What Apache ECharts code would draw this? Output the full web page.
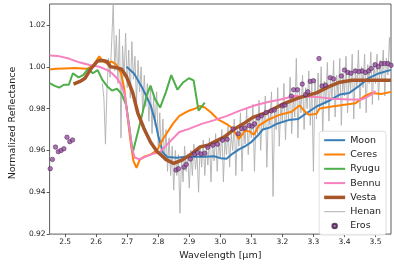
<!DOCTYPE html>
<html><head><meta charset="utf-8">
<script src="https://cdn.jsdelivr.net/npm/echarts@6/dist/echarts.min.js"></script>
<style>html,body{margin:0;padding:0;background:#fff}#c{width:394px;height:266px}</style>
</head><body><div id="c"></div>
<script>
const xTicks = [2.5,2.6,2.7,2.8,2.9,3.0,3.1,3.2,3.3,3.4,3.5];
const yTicks = [0.92,0.94,0.96,0.98,1.00,1.02];

const moon = [[2.698,1.000],[2.722,0.9968],[2.749,0.9898],[2.775,0.9818],[2.79,0.974],[2.80,0.967],[2.815,0.959],[2.83,0.9568],[2.86,0.9565],[2.89,0.957],[2.92,0.957],[2.95,0.957],[2.98,0.9572],[3.00,0.9563],[3.02,0.956],[3.04,0.9585],[3.06,0.9605],[3.08,0.962],[3.10,0.964],[3.12,0.967],[3.137,0.970],[3.16,0.971],[3.18,0.9726],[3.22,0.9745],[3.25,0.975],[3.28,0.978],[3.31,0.981],[3.354,0.984],[3.385,0.9867],[3.416,0.9875],[3.447,0.9908],[3.478,0.9946],[3.51,0.9968],[3.55,0.9985]];

const ceres = [[2.45,0.9987],[2.47,0.999],[2.50,0.9992],[2.53,0.9994],[2.57,0.999],[2.59,1.0005],[2.61,1.005],[2.62,1.003],[2.635,1.0015],[2.65,1.0025],[2.665,1.001],[2.68,0.997],[2.69,0.990],[2.70,0.978],[2.71,0.965],[2.72,0.955],[2.73,0.9517],[2.74,0.9555],[2.754,0.957],[2.775,0.958],[2.796,0.960],[2.816,0.9656],[2.847,0.9727],[2.868,0.9765],[2.899,0.979],[2.919,0.980],[2.935,0.9813],[2.95,0.9805],[2.971,0.978],[2.991,0.975],[3.022,0.9725],[3.04,0.9705],[3.06,0.9655],[3.08,0.9695],[3.095,0.969],[3.108,0.9675],[3.125,0.972],[3.156,0.9748],[3.19,0.977],[3.23,0.9785],[3.255,0.9815],[3.27,0.979],[3.285,0.977],[3.31,0.9775],[3.32,0.980],[3.36,0.981],[3.435,0.9825],[3.465,0.986],[3.487,0.9875],[3.518,0.987],[3.55,0.988]];

const ryugu = [[2.45,0.9922],[2.465,0.991],[2.481,0.990],[2.496,0.9914],[2.512,0.9914],[2.525,0.9969],[2.543,0.9949],[2.558,0.996],[2.574,0.999],[2.589,0.9969],[2.605,0.9984],[2.62,0.9937],[2.636,0.9906],[2.651,0.9886],[2.667,0.9895],[2.682,0.987],[2.697,0.9815],[2.708,0.970],[2.718,0.959],[2.733,0.968],[2.748,0.977],[2.762,0.986],[2.775,0.991],[2.79,0.9844],[2.806,0.9805],[2.825,0.988],[2.842,0.996],[2.862,0.989],[2.88,0.9925],[2.899,0.9945],[2.914,0.9935],[2.93,0.979],[2.95,0.9828]];

const bennu = [[2.45,1.0054],[2.476,1.0052],[2.512,1.0039],[2.548,1.002],[2.579,1.0008],[2.61,1.0],[2.636,0.9984],[2.651,0.9969],[2.667,0.9945],[2.682,0.9911],[2.692,0.9867],[2.70,0.9774],[2.708,0.9696],[2.715,0.961],[2.725,0.9565],[2.74,0.9558],[2.775,0.958],[2.806,0.9594],[2.837,0.9641],[2.868,0.9688],[2.899,0.9703],[2.94,0.9727],[2.981,0.9745],[3.022,0.9765],[3.063,0.979],[3.11,0.9815],[3.15,0.983],[3.19,0.9842],[3.24,0.986],[3.27,0.9858],[3.31,0.9856],[3.36,0.9847],[3.416,0.9843],[3.455,0.9843],[3.487,0.9867],[3.50,0.9884]];

const vesta = [[2.527,0.9917],[2.548,0.993],[2.564,0.9945],[2.584,0.9992],[2.605,1.0028],[2.62,1.003],[2.635,1.0025],[2.646,1.0],[2.661,0.9997],[2.682,0.9988],[2.697,0.9955],[2.708,0.9915],[2.718,0.9875],[2.734,0.978],[2.754,0.9705],[2.775,0.964],[2.796,0.9595],[2.827,0.9555],[2.85,0.9538],[2.878,0.9555],[2.909,0.9586],[2.935,0.9617],[2.96,0.9625],[2.981,0.9641],[3.012,0.9664],[3.043,0.970],[3.074,0.9727],[3.105,0.9758],[3.148,0.978],[3.20,0.982],[3.25,0.985],[3.31,0.9875],[3.35,0.9905],[3.385,0.9926],[3.425,0.9935],[3.49,0.9936],[3.55,0.9935]];

const henan = [[2.620,0.992],[2.625,0.985],[2.630,0.963],[2.635,0.990],[2.640,1.004],[2.645,0.995],[2.650,1.012],[2.655,1.030],[2.660,0.998],[2.665,1.015],[2.670,0.992],[2.675,1.018],[2.680,0.966],[2.685,1.010],[2.690,0.995],[2.695,1.016],[2.700,0.990],[2.705,1.008],[2.710,0.985],[2.715,1.012],[2.720,0.994],[2.725,1.005],[2.730,0.983],[2.735,1.003],[2.740,0.988],[2.745,1.000],[2.750,0.978],[2.755,0.996],[2.760,0.981],[2.765,0.992],[2.770,0.974],[2.775,0.990],[2.780,0.968],[2.785,0.985],[2.790,0.972],[2.795,0.988],[2.800,0.962],[2.805,0.978],[2.810,0.958],[2.815,0.975],[2.820,0.955],[2.825,0.970],[2.830,0.950],[2.835,0.966],[2.840,0.948],[2.845,0.962],[2.850,0.941],[2.855,0.960],[2.860,0.948],[2.865,0.958],[2.870,0.930],[2.875,0.957],[2.880,0.945],[2.885,0.962],[2.890,0.950],[2.895,0.958],[2.900,0.942],[2.905,0.960],[2.910,0.948],[2.915,0.963],[2.920,0.951],[2.925,0.958],[2.930,0.940],[2.935,0.962],[2.940,0.952],[2.945,0.965],[2.950,0.948],[2.955,0.962],[2.960,0.953],[2.965,0.966],[2.970,0.945],[2.975,0.964],[2.980,0.955],[2.985,0.968],[2.990,0.950],[2.995,0.965],[3.000,0.956],[3.005,0.970],[3.010,0.945],[3.015,0.966],[3.020,0.958],[3.025,0.972],[3.030,0.952],[3.035,0.968],[3.040,0.960],[3.045,0.975],[3.050,0.948],[3.055,0.970],[3.060,0.962],[3.065,0.978],[3.070,0.950],[3.075,0.972],[3.080,0.963],[3.085,0.980],[3.090,0.958],[3.095,0.974],[3.100,0.966],[3.105,0.982],[3.110,0.950],[3.115,0.975],[3.120,0.968],[3.125,0.984],[3.130,0.960],[3.135,0.977],[3.140,0.970],[3.145,0.986],[3.150,0.952],[3.155,0.978],[3.160,0.972],[3.165,0.988],[3.170,0.938],[3.175,0.980],[3.180,0.970],[3.185,0.990],[3.190,0.962],[3.195,0.982],[3.200,0.974],[3.205,0.992],[3.210,0.965],[3.215,0.984],[3.220,0.975],[3.225,0.995],[3.230,0.968],[3.235,0.986],[3.240,0.976],[3.245,1.004],[3.250,0.966],[3.255,0.988],[3.260,0.978],[3.265,0.996],[3.270,0.970],[3.275,0.990],[3.280,0.980],[3.285,0.998],[3.290,0.972],[3.295,0.992],[3.300,0.950],[3.305,0.994],[3.310,0.975],[3.315,0.997],[3.320,0.980],[3.325,1.000],[3.330,0.968],[3.335,0.993],[3.340,0.982],[3.345,1.002],[3.350,0.974],[3.355,0.995],[3.360,0.984],[3.365,1.003],[3.370,0.976],[3.375,0.996],[3.380,0.985],[3.385,1.004],[3.390,0.972],[3.395,0.997],[3.400,0.986],[3.405,1.005],[3.410,0.978],[3.415,0.998],[3.420,0.988],[3.425,1.006],[3.430,0.975],[3.435,0.999],[3.440,0.990],[3.445,1.008],[3.450,0.980],[3.455,1.000],[3.460,0.990],[3.465,1.006],[3.470,0.978],[3.475,1.001],[3.480,0.992],[3.485,1.007],[3.490,0.982],[3.495,1.002],[3.500,0.992],[3.505,1.006],[3.510,0.984],[3.515,1.003],[3.520,0.994],[3.525,1.008],[3.530,0.986],[3.535,1.004],[3.540,0.996],[3.545,1.014],[3.550,0.998]];

const eros = [[2.452,0.9513],[2.459,0.9557],[2.469,0.9616],[2.478,0.9594],[2.487,0.960],[2.496,0.9608],[2.506,0.9663],[2.515,0.9642],[2.524,0.965],
[2.857,0.9506],[2.865,0.9512],[2.883,0.952],[2.890,0.9533],[2.904,0.9559],[2.917,0.9582],[2.927,0.959],[2.938,0.9583],[2.950,0.9587],[2.960,0.9615],[2.976,0.9625],[2.991,0.963],[3.007,0.9649],[3.022,0.9653],[3.041,0.9703],[3.058,0.968],[3.069,0.9704],[3.079,0.9707],[3.093,0.9719],[3.103,0.9716],[3.110,0.9727],[3.122,0.9755],[3.133,0.9766],[3.148,0.9781],[3.164,0.9789],[3.174,0.9793],[3.200,0.9813],[3.208,0.9817],[3.229,0.986],[3.236,0.989],[3.249,0.989],[3.264,0.9917],[3.275,0.9867],[3.282,0.988],[3.290,0.993],[3.300,0.9933],[3.318,1.0039],[3.328,0.9908],[3.339,0.9912],[3.354,0.9948],[3.365,0.9942],[3.390,0.9956],[3.400,0.9984],[3.411,0.9973],[3.421,0.9969],[3.435,0.998],[3.447,0.9977],[3.457,0.998],[3.468,0.9973],[3.478,0.998],[3.486,0.9992],[3.499,1.001],[3.509,1.0],[3.519,1.0015],[3.530,1.0015],[3.540,1.0015],[3.550,1.0007]];

const FONT = 'DejaVu Sans';
const chart = echarts.init(document.getElementById('c'), null, {renderer:'canvas'});
function lineSeries(name, data, color, width, z) {
  return {name, type:'line', data, symbol:'none', showSymbol:false, z:z||3,
    lineStyle:{color, width}, itemStyle:{color}, animation:false};
}
const bar2 = 'path://M0,0H42V4H0Z';
const bar35 = 'path://M0,0H42V7H0Z';
const bar1 = 'path://M0,0H42V2H0Z';
chart.setOption({
  animation:false,
  backgroundColor:'#fff',
  grid:{left:35, right:3, top:4, bottom:26, show:true, borderColor:'#333', borderWidth:0.8, backgroundColor:'transparent'},
  xAxis:{type:'value', min:2.45, max:3.55,
    name:'Wavelength [μm]', nameLocation:'middle', nameGap:15,
    nameTextStyle:{fontFamily:FONT, fontSize:9.5, color:'#222'},
    axisLine:{show:false}, splitLine:{show:false},
    axisTick:{show:true, inside:false, length:3, lineStyle:{color:'#333', width:0.8}, customValues:xTicks},
    axisLabel:{fontFamily:FONT, fontSize:7.5, color:'#222', margin:4, customValues:xTicks, formatter:v=>v.toFixed(1)}
  },
  yAxis:{type:'value', min:0.92, max:1.03,
    name:'Normalized Reflectance', nameLocation:'middle', nameGap:30, nameRotate:90,
    nameTextStyle:{fontFamily:FONT, fontSize:9.5, color:'#222', padding:[0,8,0,0]},
    axisLine:{show:false}, splitLine:{show:false},
    axisTick:{show:true, inside:false, length:3, lineStyle:{color:'#333', width:0.8}, customValues:yTicks},
    axisLabel:{fontFamily:FONT, fontSize:7.5, color:'#222', margin:4, customValues:yTicks, formatter:v=>v.toFixed(2)}
  },
  legend:{orient:'vertical', right:8, bottom:31, itemWidth:21, itemHeight:4.5, itemGap:4.3,
    symbolKeepAspect:true,
    padding:[4,5,4,5], backgroundColor:'rgba(255,255,255,0.9)', borderColor:'#d5d5d5', borderWidth:0.8, borderRadius:3,
    textStyle:{fontFamily:FONT, fontSize:9.5, color:'#222'},
    data:[{name:'Moon', icon:bar2},{name:'Ceres', icon:bar2},{name:'Ryugu', icon:bar2},{name:'Bennu', icon:bar2},
      {name:'Vesta', icon:bar35},{name:'Henan', icon:bar1},{name:'Eros', icon:'circle'}]
  },
  series:[
    lineSeries('Moon', moon, '#377eb8', 2, 4),
    lineSeries('Ceres', ceres, '#ff7f00', 2, 4),
    lineSeries('Ryugu', ryugu, '#4daf4a', 2, 4),
    lineSeries('Bennu', bennu, '#f781bf', 2, 4),
    lineSeries('Vesta', vesta, '#a65628', 3.5, 4),
    {name:'Henan', type:'line', data:henan, symbol:'none', showSymbol:false, z:2,
      lineStyle:{color:'#b0b0b0', width:0.9}, itemStyle:{color:'#b0b0b0'}},
    {name:'Eros', type:'scatter', data:eros, symbol:'circle', symbolSize:4.5, z:5,
      itemStyle:{color:'#984ea3', borderColor:'#3a1a40', borderWidth:0.6}}
  ]
});
</script>
</body></html>
